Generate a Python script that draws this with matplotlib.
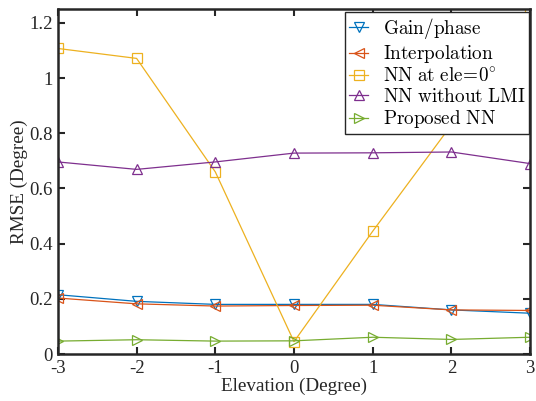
import matplotlib
matplotlib.use("Agg")
import matplotlib.pyplot as plt

elevation = [-3, -2, -1, 0, 1, 2, 3]
gain_phase = [0.215, 0.191, 0.180, 0.180, 0.180, 0.160, 0.148]
interpolation = [0.203, 0.182, 0.174, 0.176, 0.177, 0.160, 0.158]
nn_ele0 = [1.107, 1.071, 0.660, 0.045, 0.445, 0.83, 1.234]
nn_without_lmi = [0.696, 0.669, 0.696, 0.728, 0.729, 0.732, 0.690]
proposed_nn = [0.047, 0.052, 0.047, 0.048, 0.061, 0.053, 0.061]

labels = [r'$\mathrm{Gain/phase}$', r'$\mathrm{Interpolation}$',
          r'$\mathrm{NN\ at\ ele}\!=\!0^{\circ}$', r'$\mathrm{NN\ without\ LMI}$',
          r'$\mathrm{Proposed\ NN}$']
yticks = [0, 0.2, 0.4, 0.6, 0.8, 1.0, 1.2]
yticklabels = ['0', '0.2', '0.4', '0.6', '0.8', '1', '1.2']

plt.rcParams['mathtext.fontset'] = 'cm'
plt.rcParams['font.family'] = ['Liberation Serif', 'DejaVu Serif']

fig = plt.figure(figsize=(5.36, 4.01), dpi=100)
ax = fig.add_axes([0.108, 0.117, 0.881, 0.8606])

series = [gain_phase, interpolation, nn_ele0, nn_without_lmi, proposed_nn]
colors = ['#0072BD', '#D95319', '#EDB120', '#7E2F8E', '#77AC30']
markers = ['v', '<', 's', '^', '>']
for s, c, m, lab in zip(series, colors, markers, labels):
    ax.plot(elevation, s, color=c, marker=m, markersize=7.5, markerfacecolor='none',
            markeredgecolor=c, markeredgewidth=0.9, linewidth=0.9, label=lab)

ax.set_xlim(-3, 3)
ax.set_ylim(0, 1.25)
ax.set_xticks(elevation)
ax.set_xticklabels([str(e) for e in elevation])
ax.set_yticks(yticks)
ax.set_yticklabels(yticklabels)
ax.tick_params(direction='in', top=True, right=True, length=5, width=1.5,
               labelsize=13.5, colors='#262626', pad=3.5)
ax.tick_params(axis='x', pad=4.5)
for sp in ax.spines.values():
    sp.set_linewidth(1.8)
    sp.set_color('#262626')

ax.set_xlabel('Elevation (Degree)', fontsize=13.8, color='#262626', labelpad=0)
ax.set_ylabel('RMSE (Degree)', fontsize=13.8, color='#262626', labelpad=1)

leg = ax.legend(loc='upper right', bbox_to_anchor=(0.998, 0.991),
                fontsize=13.8, frameon=True, fancybox=False,
                edgecolor='#262626', framealpha=1, handlelength=1.0,
                handletextpad=0.75, borderpad=0.2, labelspacing=0.12,
                borderaxespad=0.0)
leg.get_frame().set_linewidth(1.0)
leg.set_zorder(5)

fig.savefig('out.png', dpi=100)
